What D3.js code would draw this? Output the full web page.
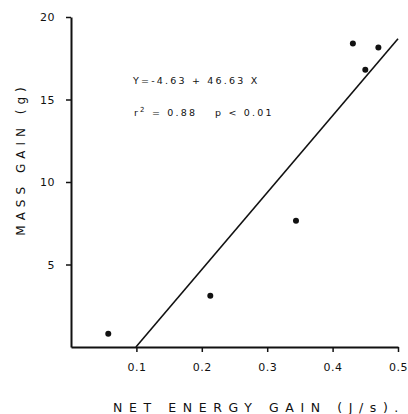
<!DOCTYPE html>
<html>
<head>
<meta charset="utf-8">
<script src="https://cdn.jsdelivr.net/npm/d3@7"></script>
<style>
  body { margin: 0; background: #fff; }
  text { font-family: "DejaVu Sans", sans-serif; fill: #111; }
  .tick text { font-size: 11px; letter-spacing: 0.5px; }
</style>
</head>
<body>
<div id="chart"></div>
<script>
// data
const energy_gain = [0.057, 0.213, 0.344, 0.431, 0.450, 0.470]
const mass_gain = [0.8, 3.1, 7.65, 18.4, 16.8, 18.15]
const x_ticks = [0.1, 0.2, 0.3, 0.4, 0.5]
const y_ticks = [5, 10, 15, 20]
const intercept = -4.63
const slope = 46.63

const width = 408, height = 414
const margin = {top: 17, right: 10, bottom: 67, left: 71}

const svg = d3.select("#chart")
    .append("svg")
    .attr("width", width)
    .attr("height", height)

const x = d3.scaleLinear().domain([0, 0.5]).range([margin.left, 398])
const y = d3.scaleLinear().domain([0, 20]).range([height - margin.bottom, margin.top])

// axes
const xAxis = svg.append("g")
    .attr("transform", "translate(0," + y(0) + ")")
    .call(d3.axisBottom(x)
        .tickValues(x_ticks)
        .tickFormat(d3.format(".1f"))
        .tickSizeInner(5)
        .tickSizeOuter(0)
        .tickPadding(11))
xAxis.select(".domain").attr("stroke-width", 2).attr("stroke", "#111")
xAxis.selectAll(".tick line").attr("stroke-width", 1.5).attr("stroke", "#111")

const yAxis = svg.append("g")
    .attr("transform", "translate(" + x(0) + ",0)")
    .call(d3.axisLeft(y)
        .tickValues(y_ticks)
        .tickSizeInner(5)
        .tickSizeOuter(0)
        .tickPadding(11))
yAxis.select(".domain").attr("stroke-width", 2).attr("stroke", "#111")
yAxis.selectAll(".tick line").attr("stroke-width", 1.5).attr("stroke", "#111")

// regression line
const x_start = -intercept / slope
const line_pts = [x_start, 0.5].map(d => ({x: d, y: intercept + slope * d}))
svg.append("path")
    .datum(line_pts)
    .attr("fill", "none")
    .attr("stroke", "#111")
    .attr("stroke-width", 1.6)
    .attr("d", d3.line()
        .x(d => x(d.x))
        .y(d => y(d.y)))

// points
svg.selectAll("circle.pt")
    .data(energy_gain)
    .enter()
    .append("circle")
    .attr("class", "pt")
    .attr("cx", d => x(d))
    .attr("cy", (d, i) => y(mass_gain[i]))
    .attr("r", 3)
    .attr("fill", "#111")

// equation text
svg.append("text")
    .attr("x", 133)
    .attr("y", 84)
    .style("font-size", "9.5px")
    .style("letter-spacing", "2.2px")
    .text("Y=-4.63 + 46.63 X")

const r2 = svg.append("text")
    .attr("x", 134)
    .attr("y", 116)
    .style("font-size", "9.5px")
    .style("letter-spacing", "2.2px")
r2.append("tspan").text("r")
r2.append("tspan").attr("dy", -4).style("font-size", "7px").text("2")
r2.append("tspan").attr("dy", 4).text(" = 0.88")
svg.append("text")
    .attr("x", 215)
    .attr("y", 116)
    .style("font-size", "9.5px")
    .style("letter-spacing", "2.2px")
    .text("p < 0.01")

// axis labels
svg.append("text")
    .attr("x", 113)
    .attr("y", 412)
    .style("font-size", "12.5px")
    .style("letter-spacing", "6.6px")
    .text("NET ENERGY GAIN (J/s).")

svg.append("text")
    .attr("transform", "translate(25,159) rotate(-90)")
    .attr("text-anchor", "middle")
    .style("font-size", "12px")
    .style("letter-spacing", "5px")
    .text("MASS GAIN (g)")
</script>
</body>
</html>
